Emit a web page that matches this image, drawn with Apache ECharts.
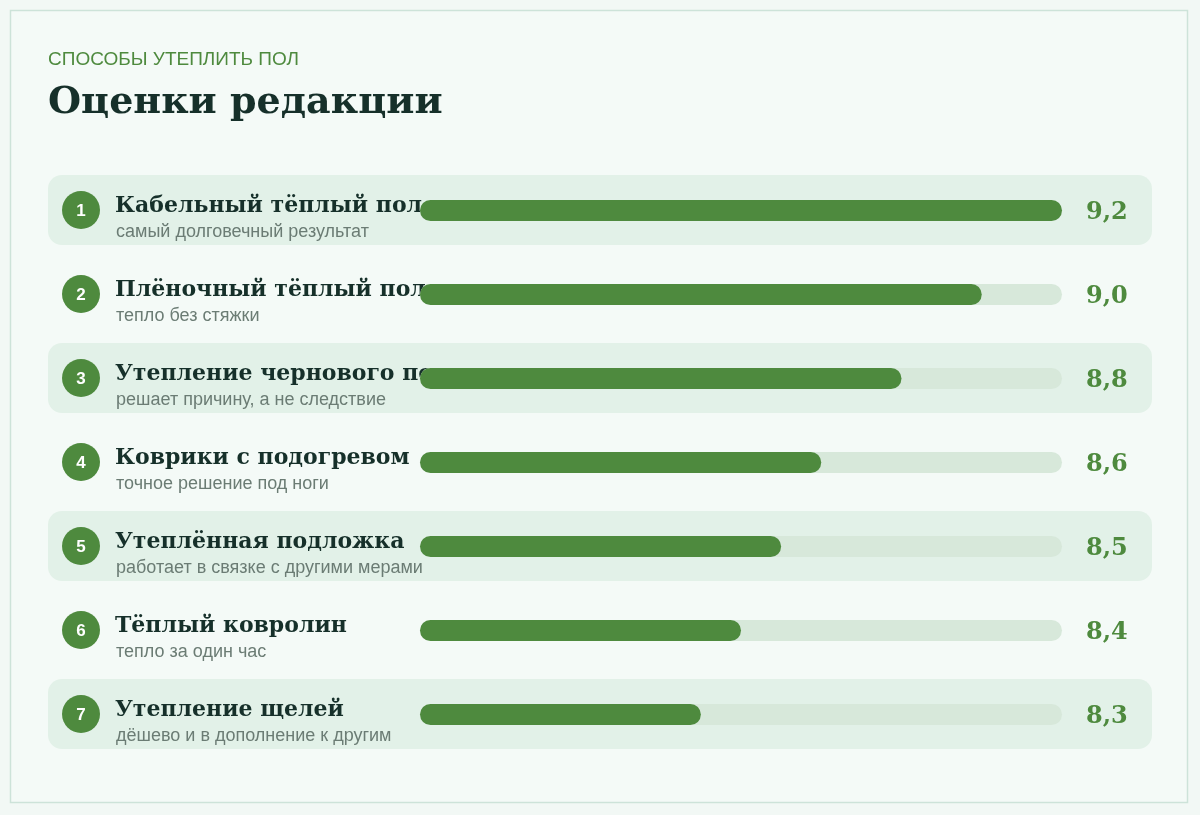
<!DOCTYPE html>
<html>
<head>
<meta charset="utf-8">
<script src="https://cdn.jsdelivr.net/npm/echarts@6/dist/echarts.min.js"></script>
<style>
  html, body { margin: 0; padding: 0; background: #f2f8f5; }
  #chart { width: 1200px; height: 815px; }
</style>
</head>
<body>
<div id="chart"></div>
<script>
// Editorial scores for floor insulation methods
const names = [
    'Кабельный тёплый пол',
    'Плёночный тёплый пол',
    'Утепление чернового пола',
    'Коврики с подогревом',
    'Утеплённая подложка',
    'Тёплый ковролин',
    'Утепление щелей'
];
const notes = [
    'самый долговечный результат',
    'тепло без стяжки',
    'решает причину, а не следствие',
    'точное решение под ноги',
    'работает в связке с другими мерами',
    'тепло за один час',
    'дёшево и в дополнение к другим'
];
const scores = [9.2, 9.0, 8.8, 8.6, 8.5, 8.4, 8.3];

const SCALE_MIN = 7.6;
const SCALE_MAX = 9.2;

const GREEN = '#4e8a3e';
const DARK = '#16302a';
const SERIF = '"DejaVu Serif", Georgia, serif';
const SANS = '"Liberation Sans", Arial, sans-serif';

const chart = echarts.init(document.getElementById('chart'));

function renderRow(params, api) {
    const i = api.value(1);
    const score = api.value(0);
    const start = api.coord([SCALE_MIN, i]);
    const end = api.coord([SCALE_MAX, i]);
    const pos = api.coord([score, i]);
    const cy = start[1];
    const x0 = start[0];
    const children = [];

    // alternating row band
    if (i % 2 === 0) {
        children.push({
            type: 'rect',
            shape: { x: x0 - 372, y: cy - 35, width: end[0] + 90 - (x0 - 372), height: 70, r: 14 },
            style: { fill: '#e2f1e8' }
        });
    }
    // rank badge
    children.push({
        type: 'circle',
        shape: { cx: x0 - 339, cy: cy, r: 19 },
        style: { fill: GREEN }
    });
    children.push({
        type: 'text',
        style: {
            x: x0 - 339, y: cy + 1, text: String(i + 1),
            fill: '#fff', font: 'bold 17px ' + SANS,
            textAlign: 'center', textVerticalAlign: 'middle'
        }
    });
    // name + note
    children.push({
        type: 'text',
        style: {
            x: x0 - 305, y: cy - 4, text: names[i],
            fill: DARK, font: 'bold 22px ' + SERIF,
            textAlign: 'left', textVerticalAlign: 'middle'
        }
    });
    children.push({
        type: 'text',
        style: {
            x: x0 - 304, y: cy + 22, text: notes[i],
            fill: '#6b7c74', font: '18px ' + SANS,
            textAlign: 'left', textVerticalAlign: 'middle'
        }
    });
    // track and filled bar
    children.push({
        type: 'rect',
        shape: { x: x0, y: cy - 10, width: end[0] - x0, height: 21, r: 10.5 },
        style: { fill: '#d7e8da' }
    });
    children.push({
        type: 'rect',
        shape: { x: x0, y: cy - 10, width: pos[0] - x0, height: 21, r: 10.5 },
        style: { fill: GREEN }
    });
    // score label
    children.push({
        type: 'text',
        style: {
            x: end[0] + 24, y: cy + 3, text: score.toFixed(1).replace('.', ','),
            fill: GREEN, font: 'bold 24px ' + SERIF,
            textAlign: 'left', textVerticalAlign: 'middle'
        }
    });

    return { type: 'group', children: children };
}

const option = {
    backgroundColor: '#f2f8f5',
    animation: false,
    title: [
        {
            text: 'СПОСОБЫ УТЕПЛИТЬ ПОЛ',
            left: 43,
            top: 45,
            textStyle: { color: GREEN, fontSize: 19, fontWeight: 'normal', fontFamily: SANS }
        },
        {
            text: 'Оценки редакции',
            left: 43,
            top: 79,
            textStyle: { color: DARK, fontSize: 38, fontWeight: 'bold', fontFamily: SERIF }
        }
    ],
    graphic: [
        {
            type: 'rect',
            z: -10,
            shape: { x: 10.5, y: 10.5, width: 1177, height: 792 },
            style: { fill: '#f4faf7', stroke: '#cde3d9', lineWidth: 1.5 }
        }
    ],
    grid: { left: 420, right: 138, top: 168, bottom: 59 },
    xAxis: { type: 'value', min: SCALE_MIN, max: SCALE_MAX, show: false },
    yAxis: { type: 'category', data: names, inverse: true, show: false },
    series: [
        {
            type: 'custom',
            renderItem: renderRow,
            encode: { x: 0, y: 1 },
            data: scores.map((s, i) => [s, i])
        }
    ]
};

chart.setOption(option);
</script>
</body>
</html>
